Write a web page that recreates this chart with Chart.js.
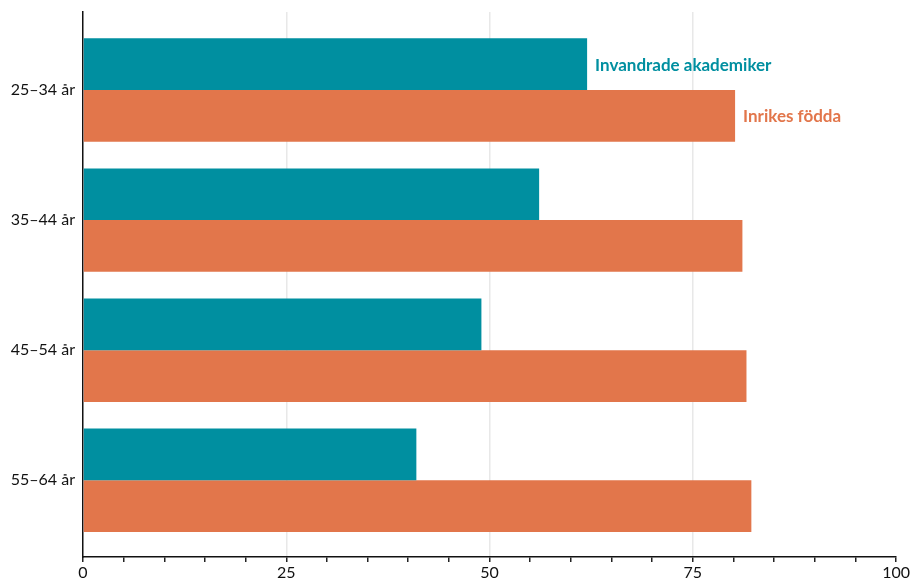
<!DOCTYPE html>
<html>
<head>
<meta charset="utf-8">
<script src="https://cdn.jsdelivr.net/npm/chart.js@4.4.1/dist/chart.umd.min.js"></script>
<style>
  html, body { margin: 0; padding: 0; background: #fff; }
  #wrap { width: 911px; height: 578px; }
</style>
</head>
<body>
<div id="wrap"><canvas id="myChart" width="911" height="578"></canvas></div>
<script>
const ageGroups = ["25–34 år", "35–44 år", "45–54 år", "55–64 år"];
const invandrade = [62.0, 56.1, 49.0, 41.0];
const inrikes = [80.2, 81.1, 81.6, 82.2];
const seriesNames = ["Invandrade akademiker", "Inrikes födda"];
const xTicks = [0, 25, 50, 75, 100];

const teal = '#008fa0';
const orange = '#e2764b';

// names written next to the first pair of bars
const seriesLabels = {
    id: 'seriesLabels',
    afterDatasetsDraw(chart) {
        const ctx = chart.ctx;
        ctx.save();
        ctx.font = 'bold 17px Lato, "Open Sans", sans-serif';
        ctx.textBaseline = 'middle';
        ctx.textAlign = 'left';
        chart.data.datasets.forEach(function(ds, i) {
            var bar = chart.getDatasetMeta(i).data[0];
            ctx.fillStyle = ds.backgroundColor;
            ctx.fillText(ds.label, bar.x + 8, bar.y + 1);
        });
        ctx.restore();
    }
};

var ctx = document.getElementById('myChart').getContext('2d');
var chart = new Chart(ctx, {
    type: 'bar',
    data: {
        labels: ageGroups,
        datasets: [{
            label: seriesNames[0],
            data: invandrade,
            backgroundColor: teal,
            borderWidth: 0
        }, {
            label: seriesNames[1],
            data: inrikes,
            backgroundColor: orange,
            borderWidth: 0
        }]
    },
    options: {
        indexAxis: 'y',
        responsive: false,
        animation: false,
        layout: { padding: { top: 12, right: 14, left: 0, bottom: 0 } },
        datasets: {
            bar: { categoryPercentage: 0.795, barPercentage: 1.0 }
        },
        plugins: {
            legend: { display: false },
            tooltip: { enabled: false }
        },
        scales: {
            x: {
                min: 0,
                max: 100,
                ticks: {
                    stepSize: 5,
                    autoSkip: false,
                    maxRotation: 0,
                    padding: 1,
                    color: '#111',
                    font: { family: 'Lato, "Open Sans", sans-serif', size: 16 },
                    callback: function(v) { return xTicks.includes(v) ? String(v) : ''; }
                },
                grid: {
                    drawTicks: true,
                    tickLength: 5,
                    tickColor: '#222',
                    lineWidth: 1.5,
                    color: function(c) {
                        var v = c.tick ? c.tick.value : null;
                        return (v === 25 || v === 50 || v === 75) ? '#e8e8e8' : 'rgba(0,0,0,0)';
                    }
                },
                border: { color: '#111', width: 1.5 },
                afterFit: function(scale) { scale.height = 21; }
            },
            y: {
                offset: true,
                ticks: {
                    padding: 8,
                    color: '#111',
                    font: { family: 'Lato, "Open Sans", sans-serif', size: 16 }
                },
                grid: { display: false, drawTicks: false },
                border: { color: '#111', width: 1.5 },
                afterFit: function(scale) {
                    scale.width = 83;
                    scale.paddingTop = 0;
                    scale.paddingBottom = 0;
                },
                afterBuildTicks: function(scale) {
                    // a bit more room above and below the bars than the default half category
                    scale._startValue = -0.6;
                    scale._valueRange = 4.19;
                }
            }
        }
    },
    plugins: [seriesLabels]
});
</script>
</body>
</html>
